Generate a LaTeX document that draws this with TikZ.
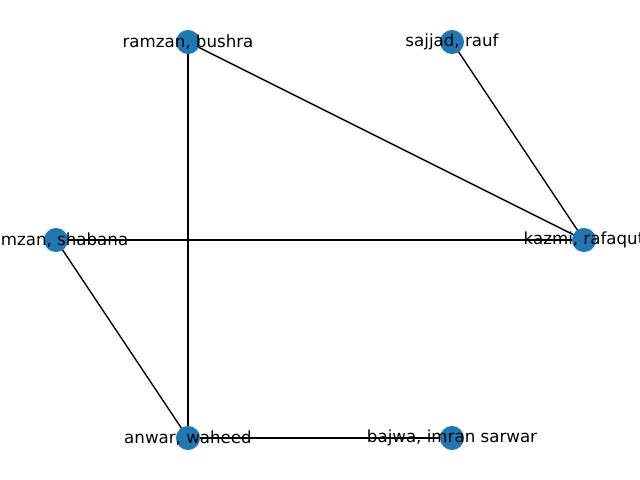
\documentclass[tikz,border=0pt]{standalone}
\usepackage{fontspec}
\setmainfont{DejaVu Sans}
\usepackage{xcolor}
\definecolor{nodeblue}{HTML}{1F77B4}
\tikzset{
  person/.style={circle,fill=nodeblue,inner sep=0pt,minimum size=17.3pt},
  personlabel/.style={font=\fontsize{12}{14}\selectfont,inner sep=0pt},
  tie/.style={line width=1pt,black}
}

\begin{document}
\begin{tikzpicture}[x=0.72pt,y=0.72pt,yscale=-1,xscale=1]
    \useasboundingbox (0,0) rectangle (640,480);
    % people
    \coordinate (bushra) at (188,42);
    \coordinate (rauf) at (452,42);
    \coordinate (shabana) at (56,240);
    \coordinate (rafaqut) at (584,240);
    \coordinate (waheed) at (188,438);
    \coordinate (imran) at (452,438);
    % ties
    \draw[tie] (bushra) -- (waheed);
    \draw[tie] (bushra) -- (rafaqut);
    \draw[tie] (rauf) -- (rafaqut);
    \draw[tie] (shabana) -- (rafaqut);
    \draw[tie] (shabana) -- (waheed);
    \draw[tie] (waheed) -- (imran);
    % nodes
    \node[person] (n1) at (bushra) {};
    \node[person] (n2) at (rauf) {};
    \node[person] (n3) at (shabana) {};
    \node[person] (n4) at (rafaqut) {};
    \node[person] (n5) at (waheed) {};
    \node[person] (n6) at (imran) {};
    % labels
    \node[personlabel] (l1) at (bushra) {ramzan, bushra};
    \node[personlabel] (l2) at (rauf) {sajjad, rauf};
    \node[personlabel] (l3) at (shabana) {ramzan, shabana};
    \node[personlabel] (l4) at (rafaqut) {kazmi, rafaqut};
    \node[personlabel] (l5) at (waheed) {anwar, waheed};
    \node[personlabel] (l6) at (imran) {bajwa, imran sarwar};
  \end{tikzpicture}
\end{document}
